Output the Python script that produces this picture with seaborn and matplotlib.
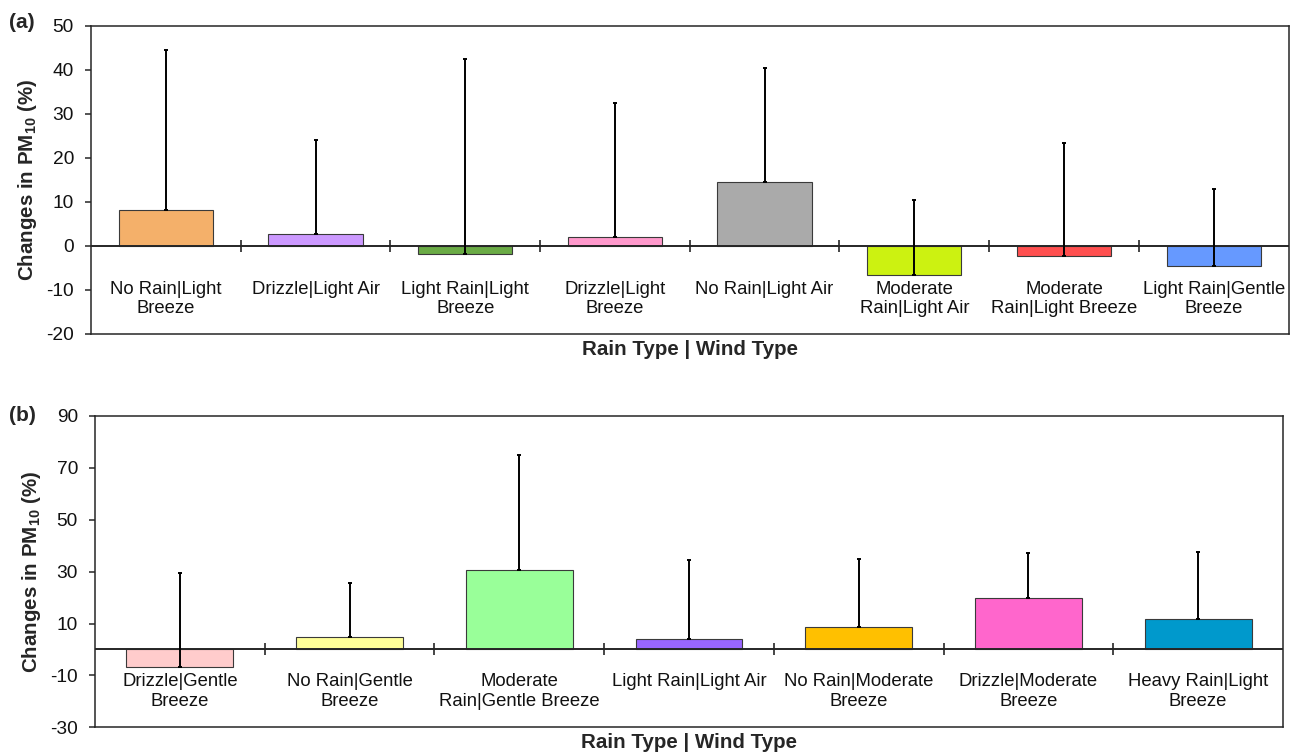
import matplotlib
matplotlib.use("Agg")
import matplotlib.pyplot as plt
import seaborn as sns
import pandas as pd
import numpy as np

# Panel (a): changes in PM10 by rain/wind combination
cats_a = ["No Rain|Light\nBreeze", "Drizzle|Light Air", "Light Rain|Light\nBreeze",
          "Drizzle|Light\nBreeze", "No Rain|Light Air", "Moderate\nRain|Light Air",
          "Moderate\nRain|Light Breeze", "Light Rain|Gentle\nBreeze"]
vals_a = [8.1, 2.8, -1.8, 2.1, 14.5, -6.7, -2.3, -4.5]
err_a = [36.4, 21.3, 44.4, 30.5, 26.0, 17.2, 25.8, 17.5]
colors_a = ["#F4B06A", "#CC99FF", "#6AAB45", "#FF99CC", "#AAAAAA",
            "#CCF211", "#FF4F4F", "#6699FF"]

# Panel (b)
cats_b = ["Drizzle|Gentle\nBreeze", "No Rain|Gentle\nBreeze", "Moderate\nRain|Gentle Breeze",
          "Light Rain|Light Air", "No Rain|Moderate\nBreeze", "Drizzle|Moderate\nBreeze",
          "Heavy Rain|Light\nBreeze"]
vals_b = [-6.7, 4.7, 30.5, 4.1, 8.6, 19.7, 11.6]
err_b = [36.3, 21.1, 44.5, 30.2, 26.1, 17.3, 25.8]
colors_b = ["#FFCCCC", "#FFFF99", "#99FF99", "#9966FF", "#FFC000", "#FF66CC", "#0099CC"]

yticks_a = [-20, -10, 0, 10, 20, 30, 40, 50]
yticks_b = [-30, -10, 10, 30, 50, 70, 90]

sns.set_style("white")
plt.rcParams["font.family"] = ["Liberation Sans", "DejaVu Sans"]
plt.rcParams["mathtext.fontset"] = "custom"
plt.rcParams["mathtext.rm"] = "Liberation Sans:bold"
plt.rcParams["mathtext.default"] = "rm"

W, H = 1290, 752
fig = plt.figure(figsize=(W / 100, H / 100), dpi=100)

FRAME = "#262626"


def px_axes(left, top, right, bottom):
    return fig.add_axes([left / W, 1 - bottom / H, (right - left) / W, (bottom - top) / H])


def draw_panel(ax, cats, vals, errs, colors, yticks, label_y):
    df = pd.DataFrame({"cat": cats, "val": vals})
    sns.barplot(data=df, x="cat", y="val", hue="cat", palette=colors, width=0.63,
                saturation=1, edgecolor="#3a3a3a", linewidth=0.8, legend=False,
                ax=ax, zorder=2)
    x = np.arange(len(cats))
    ax.errorbar(x, vals, yerr=[np.zeros(len(vals)), errs], fmt="none",
                ecolor="black", elinewidth=1.4, capsize=1.7, capthick=1.4, zorder=4)
    n = len(cats)
    ax.set_xlim(-0.5, n - 0.5)
    ax.set_ylim(yticks[0], yticks[-1])
    ax.set_yticks(yticks)
    ax.set_yticklabels([str(t) for t in yticks])
    ax.tick_params(axis="y", direction="out", length=4.3, width=1.1, color=FRAME,
                   labelsize=13.8, pad=8.0, left=True, labelcolor="#111111")
    ax.set_xticks([])
    ax.set_xlabel("")
    ax.set_ylabel("Changes in PM$_{10}$ (%)", fontsize=14.8, fontweight="bold",
                  labelpad=5)
    # zero line with category boundary ticks
    ax.axhline(0, color=FRAME, lw=1.4, zorder=3)
    bounds = np.arange(0.5, n - 0.5, 1.0)
    ax.plot(bounds, np.zeros(len(bounds)), linestyle="none", marker="|",
            markersize=8.6, markeredgewidth=1.2, color=FRAME, zorder=3)
    for i, c in enumerate(cats):
        ax.text(i, label_y, c, ha="center", va="top", fontsize=13.3,
                multialignment="center", color="#111111")
    for s in ax.spines.values():
        s.set_visible(True)
        s.set_color(FRAME)
        s.set_linewidth(1.1)
    return ax


ax_a = px_axes(91, 26, 1288.5, 334)
draw_panel(ax_a, cats_a, vals_a, err_a, colors_a, yticks_a, -7.9)
ax_b = px_axes(95, 416, 1283, 727.3)
draw_panel(ax_b, cats_b, vals_b, err_b, colors_b, yticks_b, -9.2)

# x-axis titles and panel tags
fig.text(690 / W, 1 - 349 / H, "Rain Type | Wind Type", ha="center", va="center",
         fontsize=14.8, fontweight="bold")
fig.text(689 / W, 1 - 743 / H, "Rain Type | Wind Type", ha="center", va="center",
         fontsize=14.8, fontweight="bold")
fig.text(22 / W, 1 - 23 / H, "(a)", ha="center", va="center", fontsize=15,
         fontweight="bold")
fig.text(22 / W, 1 - 415 / H, "(b)", ha="center", va="center", fontsize=15,
         fontweight="bold")

fig.savefig("out.png", dpi=100)
